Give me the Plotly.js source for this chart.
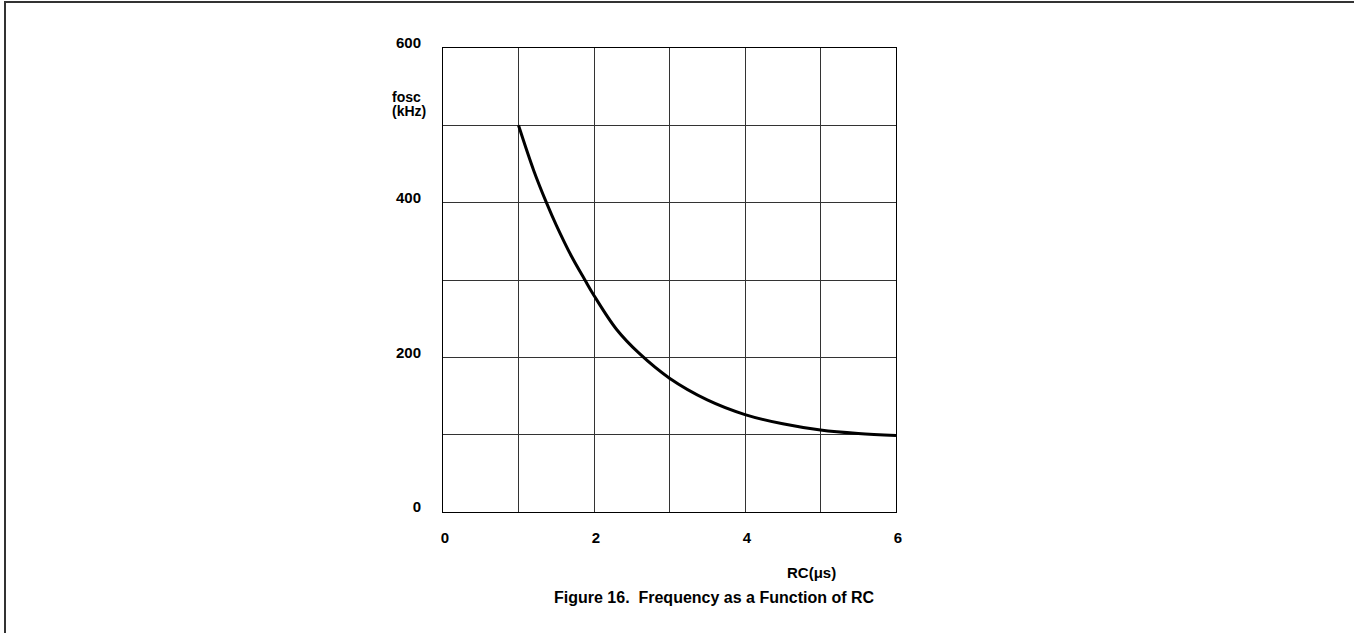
<!DOCTYPE html>
<html>
<head>
<meta charset="utf-8">
<script src="https://cdn.plot.ly/plotly-3.0.1.min.js"></script>
<style>
  html, body { margin: 0; padding: 0; background: #fff; }
  #wrap { position: relative; width: 1354px; height: 633px; overflow: hidden; }
  #frame { position: absolute; left: 4px; top: 1px; width: 1360px; height: 640px;
           border-top: 2px solid #333; border-left: 2px solid #333; pointer-events: none; z-index: 5; }
  #chart { position: absolute; left: 0; top: 0; width: 1354px; height: 633px; }
</style>
</head>
<body>
<div id="wrap">
  <div id="chart"></div>
  <div id="frame"></div>
</div>
<script>
// Data
const rcValues = [1.0, 1.2, 1.37, 1.5, 1.7, 1.88, 2.0, 2.3, 2.6, 3.0, 3.5, 4.0, 4.5, 5.0, 5.5, 6.0];
const foscValues = [500, 442, 400, 371, 331, 300, 280, 236, 205, 173, 145, 126, 114, 106, 101.5, 99];

const xTickVals = [0, 1, 2, 3, 4, 5, 6];
const xTickText = ['0', '', '2', '', '4', '', '6'];
const yTickVals = [0, 100, 200, 300, 400, 500, 600];
const yTickText = ['0', '', '200', '', '400', '', '600'];

const titleText = 'Figure 16.\u00A0 Frequency as a Function of RC';
const xTitleText = 'RC(\u03BCs)';
const yTitleLines = ['fosc', '(kHz)'];

const fontFamily = 'Liberation Sans, Arial, sans-serif';

const trace = {
  x: rcValues,
  y: foscValues,
  type: 'scatter',
  mode: 'lines',
  line: { color: '#000', width: 3, shape: 'spline', smoothing: 1 },
  hoverinfo: 'skip'
};

const px2x = px => (px - 443) / 453;
const py2y = py => (512 - py) / 464;

const layout = {
  width: 1354,
  height: 633,
  paper_bgcolor: '#fff',
  plot_bgcolor: '#fff',
  showlegend: false,
  margin: { l: 443, r: 458, t: 48, b: 121, pad: 0 },
  font: { family: fontFamily, color: '#000' },
  xaxis: {
    range: [0, 6],
    tickvals: xTickVals,
    ticktext: xTickText,
    showgrid: true,
    gridcolor: '#333',
    gridwidth: 1,
    zeroline: false,
    showline: true,
    mirror: true,
    linecolor: '#000',
    linewidth: 1,
    ticks: '',
    ticklabelstandoff: 12,
    ticklabelshift: 2,
    tickfont: { family: fontFamily, size: 15, color: '#000', weight: 'bold' },
    fixedrange: true
  },
  yaxis: {
    range: [0, 600],
    tickvals: yTickVals,
    ticktext: yTickText,
    showgrid: true,
    gridcolor: '#333',
    gridwidth: 1,
    zeroline: false,
    showline: true,
    mirror: true,
    linecolor: '#000',
    linewidth: 1,
    ticks: '',
    ticklabelstandoff: 18,
    ticklabelshift: -5,
    tickfont: { family: fontFamily, size: 15, color: '#000', weight: 'bold' },
    fixedrange: true
  },
  annotations: [
    {
      text: '<b>' + yTitleLines[0] + '</b>',
      xref: 'paper', yref: 'paper',
      x: px2x(390), y: py2y(97),
      xanchor: 'left', yanchor: 'middle', align: 'left',
      showarrow: false,
      font: { family: fontFamily, size: 14, color: '#000' }
    },
    {
      text: '<b>' + yTitleLines[1] + '</b>',
      xref: 'paper', yref: 'paper',
      x: px2x(390), y: py2y(111),
      xanchor: 'left', yanchor: 'middle', align: 'left',
      showarrow: false,
      font: { family: fontFamily, size: 14, color: '#000' }
    },
    {
      text: '<b>' + xTitleText + '</b>',
      xref: 'paper', yref: 'paper',
      x: px2x(811), y: py2y(572),
      xanchor: 'center', yanchor: 'middle',
      showarrow: false,
      font: { family: fontFamily, size: 15, color: '#000' }
    },
    {
      text: '<b>' + titleText + '</b>',
      xref: 'paper', yref: 'paper',
      x: px2x(714), y: py2y(597),
      xanchor: 'center', yanchor: 'middle',
      showarrow: false,
      font: { family: fontFamily, size: 16, color: '#000' }
    }
  ]
};

Plotly.newPlot('chart', [trace], layout, { displayModeBar: false, staticPlot: true });
</script>
</body>
</html>
